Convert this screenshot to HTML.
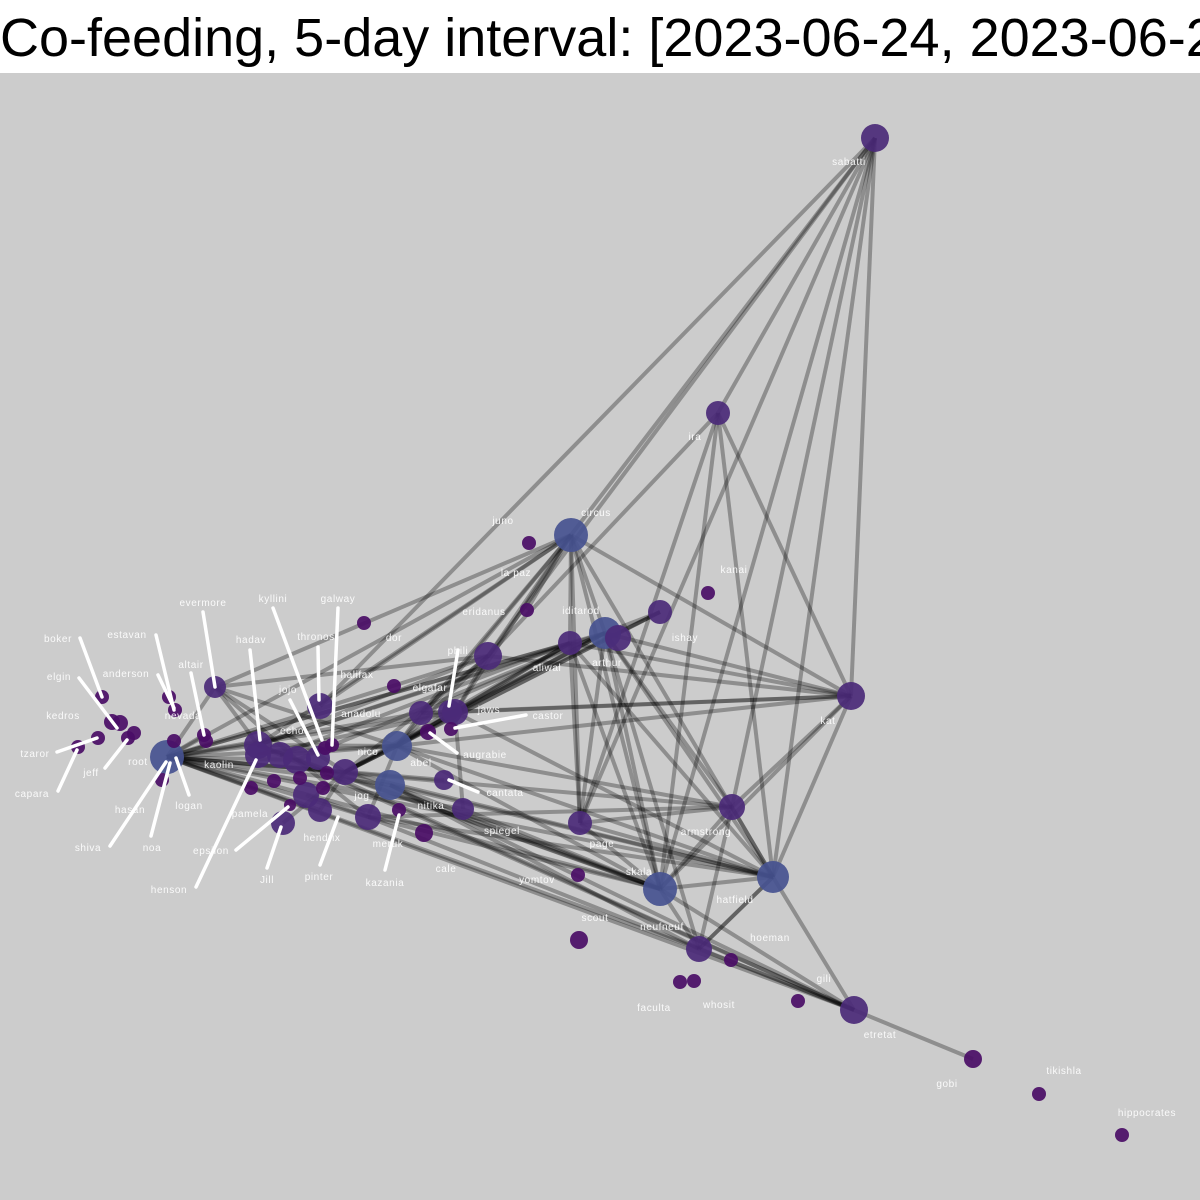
<!DOCTYPE html>
<html><head><meta charset="utf-8">
<style>
html,body{margin:0;padding:0;width:1200px;height:1200px;overflow:hidden;background:#fff;font-family:"Liberation Sans",sans-serif;}
#title{position:absolute;left:0;top:0;width:1200px;height:73px;background:#fff;font-size:54px;line-height:76px;white-space:nowrap;overflow:hidden;color:#000;}
#plot{position:absolute;left:0;top:73px;}
</style></head>
<body>
<div id="title">Co-feeding, 5-day interval: [2023-06-24, 2023-06-28]</div>
<svg id="plot" width="1200" height="1127" viewBox="0 73 1200 1127">
<rect x="0" y="73" width="1200" height="1127" fill="#cccccc"/>
<g id="edges"></g>
<g id="nodes"></g>
<g id="leaders"></g>
<g id="labels"></g>
</svg>
<script>
// node data: x, y, size, type (0 dark small, 1 purple, 2 blue)
const nodeX=[875,718,571,851,605,618,570,660,732,773,660,699,854,580,488,167,215,397,390,421,455,450,444,463,368,345,320,306,283,320,258,258,280,297,318,529,527,708,364,394,973,1039,1122,579,578,680,694,731,798,424,399,102,112,120,98,78,128,134,169,175,204,206,174,162,274,251,290,300,323,325,332,327,428,451];
const nodeY=[138,413,535,696,633,638,643,612,807,877,889,949,1010,823,656,757,687,746,785,713,712,712,780,809,817,772,810,795,823,706,745,755,755,760,758,543,610,593,623,686,1059,1094,1135,940,875,982,981,960,1001,833,810,697,722,723,738,747,738,733,697,710,735,741,741,780,781,788,805,778,788,748,745,773,732,729];
const nodeR=[14,12,17,14,16,13,12,12,13,16,17,13,14,12,14,17,11,15,15,12,13,12,10,11,13,13,12,13,12,13,14,13,13,14,12,7,7,7,7,7,9,7,7,9,7,7,7,7,7,9,7,7,8,8,7,7,7,7,7,7,7,7,7,7,7,7,6,7,7,7,7,7,8,7];
const nodeT=[1,1,2,1,2,1,1,1,1,2,2,1,1,1,1,2,1,2,2,1,1,1,1,1,1,1,1,1,1,1,1,1,1,1,1,0,0,0,0,0,0,0,0,0,0,0,0,0,0,0,0,0,0,0,0,0,0,0,0,0,0,0,0,0,0,0,0,0,0,0,0,0,0,0];
const edgeA=[0,0,0,0,0,0,0,0,0,1,1,1,1,1,2,2,2,2,2,2,2,2,2,2,2,2,2,2,2,3,3,3,3,3,3,3,3,3,4,4,4,4,4,4,4,4,4,4,4,4,4,4,6,6,6,6,6,6,6,6,6,7,7,7,8,8,8,8,8,8,8,9,9,9,9,9,9,9,9,9,9,10,10,10,10,10,10,10,10,10,10,10,11,11,11,11,12,12,12,12,12,12,14,14,14,14,14,14,14,15,15,15,15,15,15,15,15,15,15,15,15,15,16,16,16,16,17,17,17,30,30,25,25,24,20,19,27,26,28,33,32,31];
const edgeB=[29,14,2,1,3,8,9,10,13,14,3,9,10,13,15,16,30,17,14,4,6,3,9,10,13,29,19,36,20,4,6,17,20,19,8,9,10,14,15,30,33,25,17,7,9,10,8,11,13,20,19,5,15,30,32,17,20,25,10,9,13,17,25,20,15,17,24,13,9,10,11,15,17,18,25,24,10,11,12,13,20,15,30,33,18,25,17,24,13,12,11,23,15,18,9,12,15,30,18,24,40,33,15,30,16,25,17,20,19,16,30,33,25,17,18,24,20,19,22,23,60,26,30,33,17,25,20,19,25,33,17,17,20,17,23,21,24,25,25,24,17,20,19];
const labelText=["sabatti","ira","circus","juno","la paz","kanai","eridanus","iditarod","ishay","arthur","aliwal","dor","halifax","phili","elgafar","jaws","castor","anadolu","jojo","echo","nico","abel","augrabie","kat","cantata","nitika","jog","spiegel","page","armstrong","pamela","hendrix","meruk","cale","yomtov","skala","hatfield","kazania","pinter","Jill","epsilon","henson","scout","neufneuf","hoeman","gili","faculta","whosit","etretat","gobi","tikishla","hippocrates","evermore","kyllini","galway","thronos","hadav","altair","estavan","boker","anderson","elgin","nevada","kedros","tzaror","capara","jeff","root","kaolin","hasan","logan","shiva","noa"];
const labelX=[849,695,596,503,516,734,484,581,685,607,547,394,357,458,430,489,548,361,288,292,368,421,485,828,505,431,362,502,602,706,250,322,388,446,537,639,735,385,319,267,211,169,595,662,770,824,654,719,880,947,1064,1147,203,273,338,316,251,191,127,58,126,59,183,63,35,32,91,138,219,130,189,88,152];
const labelY=[164,439,515,523,575,572,614,613,640,665,670,640,677,653,690,712,718,716,692,733,754,765,757,723,795,808,798,833,846,834,816,840,846,871,882,874,902,885,879,882,853,892,920,929,940,981,1010,1007,1037,1086,1073,1115,605,601,601,639,642,667,637,641,676,679,718,718,756,796,775,764,767,812,808,850,850];
const leadX1=[203,80,79,156,158,191,250,273,338,318,290,57,58,105,110,151,189,196,236,267,320,385,458,526,457,478];
const leadY1=[612,638,678,635,675,673,650,608,608,647,700,752,791,768,846,836,795,887,850,868,865,870,650,715,753,792];
const leadX2=[215,102,117,174,174,204,260,322,332,319,318,97,77,127,166,170,176,256,288,281,338,399,449,455,430,449];
const leadY2=[687,697,728,710,708,735,740,740,745,700,755,738,750,740,762,763,758,760,807,827,817,815,706,728,733,780];

const NS="http://www.w3.org/2000/svg";
const eg=document.getElementById('edges');
for(let i=0;i<edgeA.length;i++){
  const a=edgeA[i],b=edgeB[i];
  const l=document.createElementNS(NS,'line');
  
  
  l.setAttribute('x1',nodeX[a]);l.setAttribute('y1',nodeY[a]);
  l.setAttribute('x2',nodeX[b]);l.setAttribute('y2',nodeY[b]);
  l.setAttribute('stroke','#000');l.setAttribute('stroke-opacity','0.3');l.setAttribute('stroke-width','4');
  eg.appendChild(l);
}
const fills=['#4a0d66','#4b2a78','#465290'];
const ng=document.getElementById('nodes');
for(let i=0;i<nodeX.length;i++){
  const c=document.createElementNS(NS,'circle');
  
  
  c.setAttribute('cx',nodeX[i]);c.setAttribute('cy',nodeY[i]);c.setAttribute('r',nodeR[i]);
  c.setAttribute('fill',fills[nodeT[i]]);c.setAttribute('fill-opacity','0.92');
  ng.appendChild(c);
}
const lg=document.getElementById('leaders');
for(let i=0;i<leadX1.length;i++){
  const l=document.createElementNS(NS,'line');
  
  
  l.setAttribute('x1',leadX1[i]);l.setAttribute('y1',leadY1[i]);
  l.setAttribute('x2',leadX2[i]);l.setAttribute('y2',leadY2[i]);
  l.setAttribute('stroke','#fff');l.setAttribute('stroke-width','3.5');l.setAttribute('stroke-linecap','round');
  lg.appendChild(l);
}
const tg=document.getElementById('labels');
for(let i=0;i<labelText.length;i++){
  const t=document.createElementNS(NS,'text');
  
  
  t.setAttribute('x',labelX[i]);t.setAttribute('y',labelY[i]+1);
  t.setAttribute('text-anchor','middle');
  t.setAttribute('font-family','Liberation Sans, sans-serif');
  t.setAttribute('font-size','10');t.setAttribute('letter-spacing','0.6');
  t.setAttribute('fill','#fff');t.setAttribute('fill-opacity','0.9');
  t.textContent=labelText[i];
  tg.appendChild(t);
}
</script>
</body></html>
